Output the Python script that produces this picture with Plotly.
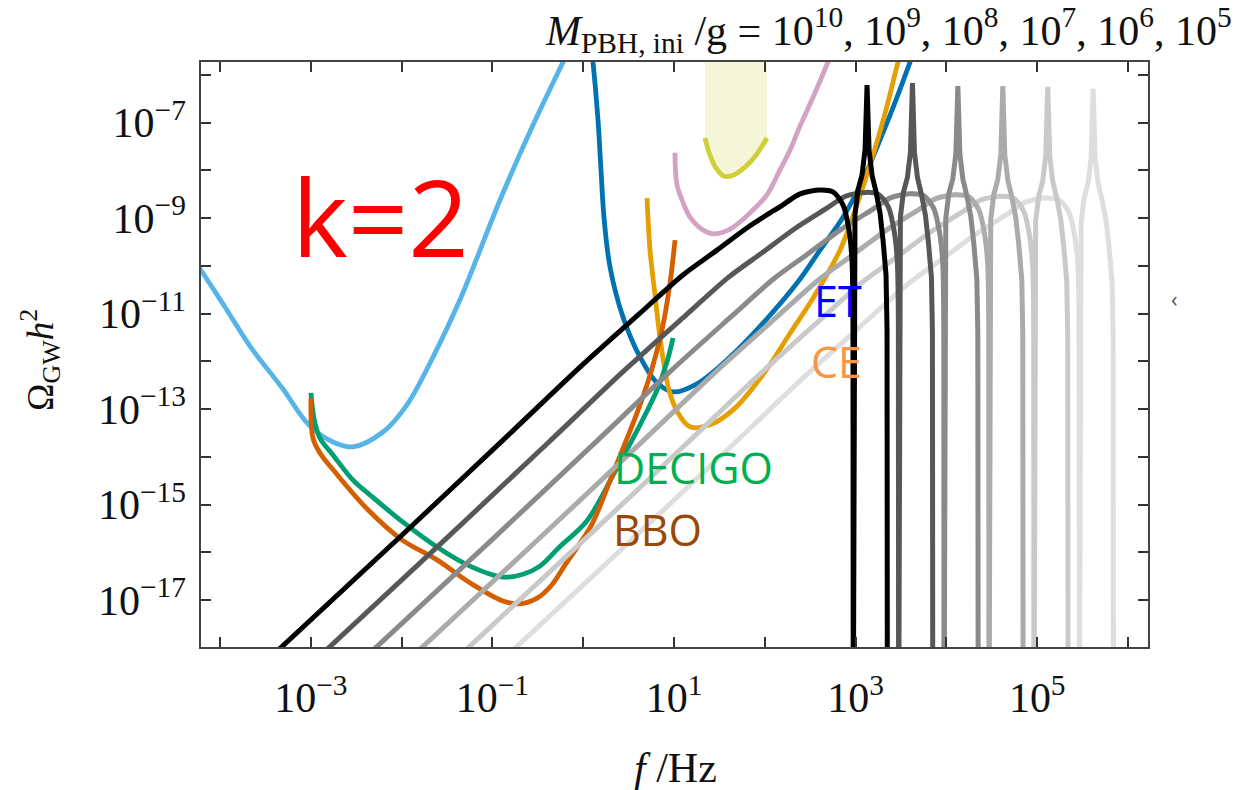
import numpy as np
import plotly.graph_objects as go

# ---------------- axis extent (log10 units) ----------------
X_RANGE = [-4.209, 6.220]
Y_RANGE = [-17.985, -5.728]

# ---------------- detector sensitivity curves: log10(f/Hz), log10(Omega h^2) ----------------
lisa_logf = [-4.30, -4.209, -3.945, -3.670, -3.306, -3.031, -2.756, -2.535, -2.205, -1.941, -1.654, -1.357, -0.916, -0.553, -0.222, -0.12]
lisa_logO = [-9.82, -10.09, -10.86, -11.68, -12.58, -13.31, -13.69, -13.79, -13.48, -12.91, -11.91, -10.71, -8.62, -7.05, -5.73, -5.33]

et_logf = [0.086, 0.108, 0.163, 0.196, 0.229, 0.295, 0.438, 0.626, 0.813, 0.989, 1.253, 1.617, 1.980, 2.355, 2.608, 2.861, 3.081, 3.269, 3.445, 3.599, 3.665]
et_logO = [-5.37, -5.73, -6.94, -7.99, -8.98, -10.02, -11.07, -11.91, -12.45, -12.64, -12.47, -11.91, -11.20, -10.36, -9.67, -8.98, -8.20, -7.36, -6.52, -5.73, -5.37]

ce_logf = [0.703, 0.736, 0.791, 0.857, 0.945, 1.044, 1.176, 1.396, 1.672, 2.002, 2.278, 2.520, 2.828, 3.015, 3.192, 3.335, 3.467, 3.522]
ce_logO = [-8.58, -9.67, -10.61, -11.66, -12.60, -13.08, -13.37, -13.33, -12.98, -12.22, -11.41, -10.71, -9.67, -8.72, -7.68, -6.73, -5.73, -5.37]

decigo_logf = [-2.998, -2.965, -2.899, -2.756, -2.535, -2.348, -1.985, -1.610, -1.247, -0.883, -0.663, -0.476, -0.256, 0.042, 0.372, 0.626, 0.813, 0.923, 0.989]
decigo_logO = [-12.66, -13.19, -13.61, -13.96, -14.49, -14.80, -15.37, -15.89, -16.29, -16.52, -16.46, -16.29, -15.88, -15.34, -14.23, -13.33, -12.60, -12.01, -11.51]

bbo_logf = [-2.998, -2.976, -2.899, -2.733, -2.370, -1.996, -1.610, -1.247, -0.883, -0.696, -0.498, -0.344, -0.201, -0.057, 0.097, 0.328, 0.593, 0.736, 0.868, 0.956, 1.011]
bbo_logO = [-12.77, -13.61, -13.92, -14.32, -15.11, -15.74, -16.16, -16.64, -17.02, -17.08, -16.95, -16.68, -16.27, -15.87, -15.41, -14.34, -13.08, -12.29, -11.34, -10.36, -9.46]

pink_logf = [1.011, 1.033, 1.110, 1.176, 1.319, 1.430, 1.617, 1.870, 2.024, 2.167, 2.278, 2.388, 2.542, 2.696, 2.762]
pink_logO = [-7.63, -8.30, -8.72, -8.98, -9.25, -9.33, -9.23, -8.83, -8.51, -7.99, -7.57, -7.07, -6.42, -5.73, -5.43]

ligo_logf = [1.341, 1.396, 1.463, 1.551, 1.650, 1.782, 1.903, 2.024]
ligo_logO = [-7.32, -7.68, -7.95, -8.12, -8.10, -7.93, -7.68, -7.32]
BAND_TOP_LOG = -5.40

# ---------------- PBH-induced GW spectra, M_PBH,ini/g = 1e10 ... 1e5 ----------------
pbh_names = ["1e10", "1e9", "1e8", "1e7", "1e6", "1e5"]
pbh_colors = ["#000000", "#575757", "#8a8a8a", "#ababab", "#c9c9c9", "#dedede"]

pbh10_logf = [-3.449, -2.018, -0.883, -0.035, 0.626, 1.099, 1.474, 1.837, 2.200, 2.388, 2.608, 2.751, 2.861, 2.927, 2.960, 2.971, 2.974, 2.982, 2.993, 3.026, 3.070, 3.104, 3.126, 3.148, 3.181, 3.225, 3.269, 3.302, 3.335, 3.346, 3.350]
pbh10_logO = [-18.21, -15.68, -13.65, -12.12, -10.99, -10.19, -9.67, -9.16, -8.72, -8.49, -8.41, -8.45, -8.72, -9.25, -9.88, -11.13, -20, -9.88, -8.93, -8.41, -8.10, -7.57, -6.21, -7.57, -8.10, -8.45, -8.89, -9.46, -10.19, -11.34, -20]

pbh9_logf = [-2.949, -1.518, -0.383, 0.465, 1.126, 1.599, 1.974, 2.337, 2.700, 2.888, 3.108, 3.251, 3.361, 3.427, 3.460, 3.471, 3.474, 3.482, 3.493, 3.526, 3.570, 3.604, 3.626, 3.648, 3.681, 3.725, 3.769, 3.802, 3.835, 3.846, 3.850]
pbh9_logO = [-18.26, -15.73, -13.70, -12.17, -11.04, -10.24, -9.72, -9.21, -8.77, -8.54, -8.46, -8.50, -8.77, -9.30, -9.93, -11.18, -20, -9.93, -8.98, -8.46, -8.15, -7.62, -6.17, -7.62, -8.15, -8.50, -8.94, -9.51, -10.24, -11.39, -20]

pbh8_logf = [-2.449, -1.018, 0.117, 0.965, 1.626, 2.099, 2.474, 2.837, 3.200, 3.388, 3.608, 3.751, 3.861, 3.927, 3.960, 3.971, 3.974, 3.982, 3.993, 4.026, 4.070, 4.104, 4.126, 4.148, 4.181, 4.225, 4.269, 4.302, 4.335, 4.346, 4.350]
pbh8_logO = [-18.29, -15.76, -13.73, -12.20, -11.07, -10.27, -9.75, -9.24, -8.80, -8.57, -8.49, -8.53, -8.80, -9.33, -9.96, -11.21, -20, -9.96, -9.01, -8.49, -8.18, -7.65, -6.23, -7.65, -8.18, -8.53, -8.97, -9.54, -10.27, -11.42, -20]

pbh7_logf = [-1.954, -0.523, 0.612, 1.460, 2.121, 2.594, 2.969, 3.332, 3.695, 3.883, 4.103, 4.246, 4.356, 4.422, 4.455, 4.466, 4.469, 4.477, 4.488, 4.521, 4.565, 4.599, 4.621, 4.643, 4.676, 4.720, 4.764, 4.797, 4.830, 4.841, 4.845]
pbh7_logO = [-18.31, -15.78, -13.75, -12.22, -11.09, -10.29, -9.77, -9.26, -8.82, -8.59, -8.51, -8.55, -8.82, -9.35, -9.98, -11.23, -20, -9.98, -9.03, -8.51, -8.20, -7.67, -6.23, -7.67, -8.20, -8.55, -8.99, -9.56, -10.29, -11.44, -20]

pbh6_logf = [-1.459, -0.028, 1.107, 1.955, 2.616, 3.089, 3.464, 3.827, 4.190, 4.378, 4.598, 4.741, 4.851, 4.917, 4.950, 4.961, 4.964, 4.972, 4.983, 5.016, 5.060, 5.094, 5.116, 5.138, 5.171, 5.215, 5.259, 5.292, 5.325, 5.336, 5.340]
pbh6_logO = [-18.34, -15.81, -13.78, -12.25, -11.12, -10.32, -9.80, -9.29, -8.85, -8.62, -8.54, -8.58, -8.85, -9.38, -10.01, -11.26, -20, -10.01, -9.06, -8.54, -8.23, -7.70, -6.25, -7.70, -8.23, -8.58, -9.02, -9.59, -10.32, -11.47, -20]

pbh5_logf = [-0.959, 0.472, 1.607, 2.455, 3.116, 3.589, 3.964, 4.327, 4.690, 4.878, 5.098, 5.241, 5.351, 5.417, 5.450, 5.461, 5.464, 5.472, 5.483, 5.516, 5.560, 5.594, 5.616, 5.638, 5.671, 5.715, 5.759, 5.792, 5.825, 5.836, 5.840]
pbh5_logO = [-18.38, -15.85, -13.82, -12.29, -11.16, -10.36, -9.84, -9.33, -8.89, -8.66, -8.58, -8.62, -8.89, -9.42, -10.05, -11.30, -20, -10.05, -9.10, -8.58, -8.27, -7.74, -6.29, -7.74, -8.27, -8.62, -9.06, -9.63, -10.36, -11.51, -20]

pbh_logf = [pbh10_logf, pbh9_logf, pbh8_logf, pbh7_logf, pbh6_logf, pbh5_logf]
pbh_logO = [pbh10_logO, pbh9_logO, pbh8_logO, pbh7_logO, pbh6_logO, pbh5_logO]

# ---------------- tick labels ----------------
x_tick_exp = list(range(-4, 7))
x_label_exp = [-3, -1, 1, 3, 5]
y_tick_exp = list(range(-17, -5))
y_label_exp = [-17, -15, -13, -11, -9, -7]


def p10(a):
    return np.power(10.0, np.asarray(a, dtype=float))


def sup(e):
    s = str(e).replace("-", "\u2212")
    return "10<sup>" + s + "</sup>"


SERIF = "Liberation Serif"
SANS = "Open Sans"

fig = go.Figure()

# shaded band above the yellow-green curve
fig.add_trace(go.Scatter(
    x=p10(ligo_logf + [ligo_logf[-1], ligo_logf[0]]),
    y=p10(ligo_logO + [BAND_TOP_LOG, BAND_TOP_LOG]),
    mode="lines", fill="toself", fillcolor="#f5f5d8",
    line=dict(width=0, color="rgba(0,0,0,0)"), hoverinfo="skip"))

det = [
    (lisa_logf, lisa_logO, "#56b4e9"),
    (et_logf, et_logO, "#0072b2"),
    (ce_logf, ce_logO, "#e69f00"),
    (pink_logf, pink_logO, "#d4a2c2"),
    (ligo_logf, ligo_logO, "#cfcf3a"),
    (decigo_logf, decigo_logO, "#009e73"),
    (bbo_logf, bbo_logO, "#d55e00"),
]
for lf, lo, c in det:
    fig.add_trace(go.Scatter(x=p10(lf), y=p10(lo), mode="lines",
                             line=dict(color=c, width=4.8, shape="spline", smoothing=1.0)))

for i in reversed(range(len(pbh_names))):
    lf, lo = pbh_logf[i], pbh_logO[i]
    dip = lo.index(min(lo))  # first zero crossing (drawn far below the axis)
    # broad part: smooth curve down to the zero crossing
    fig.add_trace(go.Scatter(x=p10(lf[:dip + 1]), y=p10(lo[:dip + 1]), mode="lines",
                             name=pbh_names[i],
                             line=dict(color=pbh_colors[i], width=5, shape="spline", smoothing=0.8)))
    # sharp resonant spike between the zero crossing and the cutoff
    fig.add_trace(go.Scatter(x=p10(lf[dip:]), y=p10(lo[dip:]), mode="lines",
                             name=pbh_names[i],
                             line=dict(color=pbh_colors[i], width=5)))

tick_style = dict(ticks="inside", ticklen=10, tickwidth=1.5, tickcolor="#333333")
axis_common = dict(
    type="log", showgrid=False, zeroline=False, showline=True,
    linecolor="#444444", linewidth=1.5, mirror="ticks",
    tickfont=dict(family=SERIF, size=42, color="#111111"),
    **tick_style,
)

fig.update_xaxes(
    range=X_RANGE,
    tickvals=[10.0 ** e for e in x_label_exp],
    ticktext=[sup(e) for e in x_label_exp],
    minor=dict(tickvals=[10.0 ** e for e in x_tick_exp if e not in x_label_exp], **tick_style),
    ticklabelstandoff=13,
    **axis_common)
fig.update_yaxes(
    range=Y_RANGE,
    tickvals=[10.0 ** e for e in y_label_exp],
    ticktext=[sup(e) for e in y_label_exp],
    minor=dict(tickvals=[10.0 ** e for e in y_tick_exp if e not in y_label_exp], **tick_style),
    ticklabelstandoff=5,
    **axis_common)

W, H = 1236, 790
ML, MR, MT, MB = 201, 88, 62, 143
PW, PH = W - ML - MR, H - MT - MB


def px(x):
    return (x - ML) / PW


def py(y):
    return (H - MB - y) / PH


annos = [
    dict(text="k=2", x=px(380), y=py(216), font=dict(family=SANS, size=106, color="#ff0000")),
    dict(text="ET", x=px(838), y=py(300), font=dict(family=SANS, size=43, color="#0000ff")),
    dict(text="CE", x=px(836), y=py(361), font=dict(family=SANS, size=43, color="#f79646")),
    dict(text="DECIGO", x=px(693), y=py(467), font=dict(family=SANS, size=43, color="#00b050")),
    dict(text="BBO", x=px(657), y=py(529), font=dict(family=SANS, size=43, color="#984807")),
    dict(text="<i>f</i> /Hz", x=px(675), y=py(768), font=dict(family=SERIF, size=42, color="#111111")),
    dict(text="\u03a9<sub>GW</sub><i>h</i><sup>2</sup>", x=px(40), y=py(360), textangle=-90,
         font=dict(family=SERIF, size=37, color="#111111")),
    dict(text="<i>M</i><sub>PBH, ini</sub> /g = 10<sup>10</sup>, 10<sup>9</sup>, 10<sup>8</sup>, "
              "10<sup>7</sup>, 10<sup>6</sup>, 10<sup>5</sup>",
         x=px(888), y=py(30), font=dict(family=SERIF, size=42, color="#111111")),
    dict(text="\u2039", x=px(1174), y=py(298), font=dict(family=SANS, size=22, color="#555555")),
]
for a in annos:
    a.update(xref="paper", yref="paper", showarrow=False, xanchor="center", yanchor="middle")

fig.update_layout(
    width=W, height=H, margin=dict(l=ML, r=MR, t=MT, b=MB, autoexpand=False),
    paper_bgcolor="white", plot_bgcolor="white", showlegend=False,
    annotations=annos,
)

fig.write_html("out.html")
